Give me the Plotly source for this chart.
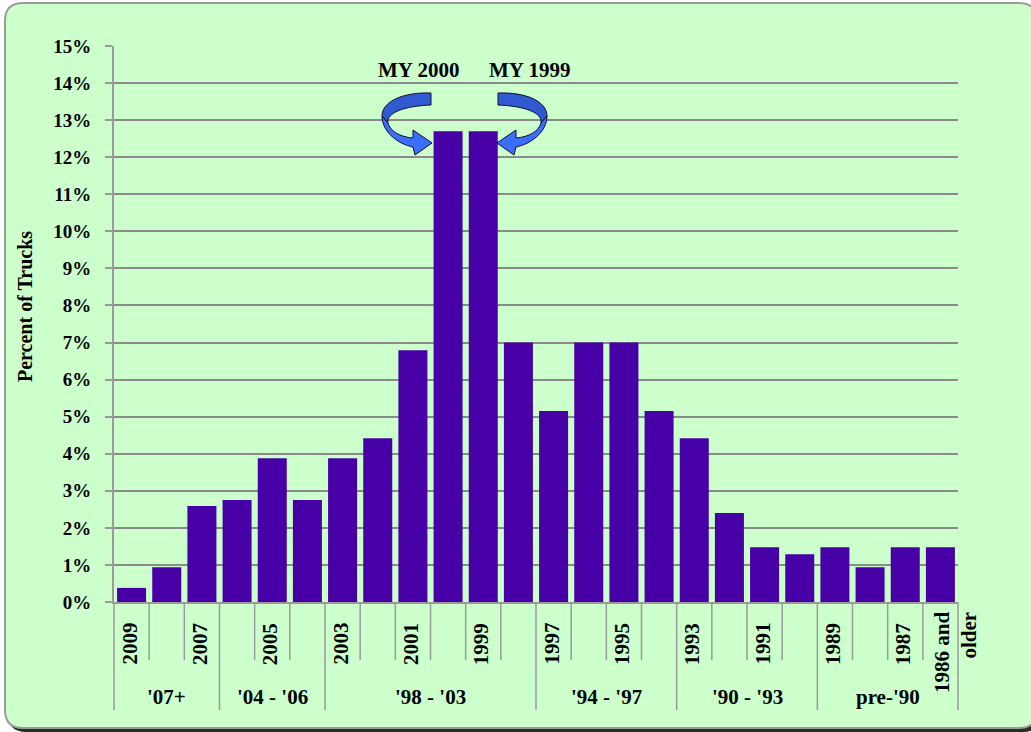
import plotly.graph_objects as go

# Model-year categories and share of trucks (%)
years = ["2009", "2008", "2007", "2006", "2005", "2004", "2003", "2002",
         "2001", "2000", "1999", "1998", "1997", "1996", "1995", "1994",
         "1993", "1992", "1991", "1990", "1989", "1988", "1987", "1986 and older"]
shares = [0.38, 0.94, 2.59, 2.75, 3.88, 2.75, 3.88, 4.42,
          6.79, 12.7, 12.7, 7.0, 5.15, 7.0, 7.0, 5.15,
          4.42, 2.4, 1.48, 1.29, 1.48, 0.94, 1.48, 1.48]
axis_labels = ["2009", "", "2007", "", "2005", "", "2003", "",
               "2001", "", "1999", "", "1997", "", "1995", "",
               "1993", "", "1991", "", "1989", "", "1987", "1986 and<br>older"]
groups = ["'07+", "'04 - '06", "'98 - '03", "'94 - '97", "'90 - '93", "pre-'90"]
group_sizes = [3, 3, 6, 4, 4, 4]
callouts = ["MY 2000", "MY 1999"]
y_ticks = list(range(0, 16))

W, H = 1031, 732
L, R, T, B = 114, 958, 46, 602
FONT = "Liberation Serif"
N = len(years)


def fx(px):
    return (px - L) / (R - L)


def fy(py):
    return (B - py) / (B - T)


def path(cmds):
    """Build an SVG path in paper units from pixel-space commands."""
    out = []
    for c in cmds:
        if isinstance(c, str):
            out.append(c)
        else:
            out.append(f"{fx(c[0]):.5f},{fy(c[1]):.5f}")
    return " ".join(out)


def rounded_rect(x0, y0, x1, y1, r):
    return path(["M", (x0 + r, y0), "L", (x1 - r, y0), "Q", (x1, y0), (x1, y0 + r),
                 "L", (x1, y1 - r), "Q", (x1, y1), (x1 - r, y1),
                 "L", (x0 + r, y1), "Q", (x0, y1), (x0, y1 - r),
                 "L", (x0, y0 + r), "Q", (x0, y0), (x0 + r, y0), "Z"])


fig = go.Figure(go.Bar(
    x=years, y=shares,
    marker=dict(color="#4700A6", line=dict(width=0)),
    hoverinfo="x+y",
))

shapes = []
# panel shadow and panel
shapes.append(dict(type="path", xref="paper", yref="paper", layer="below",
                   path=rounded_rect(8, 6, 1041, 732, 18),
                   fillcolor="#2b2b2b", line=dict(width=0)))
shapes.append(dict(type="path", xref="paper", yref="paper", layer="below",
                   path=rounded_rect(5, 3, 1037, 728, 18),
                   fillcolor="#CCFFCC", line=dict(color="#9a9a9a", width=2)))

# category separators below the axis
bounds = [0]
for s in group_sizes:
    bounds.append(bounds[-1] + s)
for k in range(N + 1):
    long_tick = k in bounds
    shapes.append(dict(type="line", xref="paper", yref="paper",
                       x0=k / N, x1=k / N, y0=0, y1=fy(710 if long_tick else 660),
                       line=dict(color="#9a9a9a", width=1.5)))


def arrow_parts(mirror=None):
    def m(p):
        return (2 * mirror - p[0], p[1]) if mirror else p
    back = ["M", m((431, 93)), "C", m((404, 92)), m((382, 101)), m((382, 116)),
            "L", m((388, 123)), "C", m((386, 113)), m((404, 106)), m((431, 105)), "Z"]
    front = ["M", m((382, 116)), "C", m((382, 132)), m((398, 144)), m((413, 147)),
             "L", m((415, 155)), "L", m((432, 143)), "L", m((413, 130)), "L", m((413, 138)),
             "C", m((400, 137)), m((390, 131)), m((388, 123)), "Z"]
    return path(back), path(front)


for mir in (None, 464.5):
    back, front = arrow_parts(mir)
    shapes.append(dict(type="path", xref="paper", yref="paper", path=back,
                       fillcolor="#2F5AD2", line=dict(color="#101030", width=1)))
    shapes.append(dict(type="path", xref="paper", yref="paper", path=front,
                       fillcolor="#3B6EFF", line=dict(color="#101030", width=1)))

annotations = []
# year labels under the bars
for i, lab in enumerate(axis_labels):
    if not lab:
        continue
    last = "<br>" in lab
    annotations.append(dict(
        x=i, xref="x", y=fy(610 if last else 621), yref="paper",
        text=lab, textangle=-90, showarrow=False,
        xanchor="center", yanchor="top", align="right",
        xshift=15 if last else -2,
        font=dict(family=FONT, size=21, color="black", weight="bold"),
    ))
# year-group labels
start = 0
for g, s in zip(groups, group_sizes):
    annotations.append(dict(
        x=start + (s - 1) / 2, xref="x", y=fy(697), yref="paper",
        text=g, showarrow=False, xanchor="center", yanchor="middle",
        font=dict(family=FONT, size=21, color="black", weight="bold"),
    ))
    start += s
# callouts above the two tallest bars
for txt, px in zip(callouts, (418, 529)):
    annotations.append(dict(
        x=fx(px), xref="paper", y=fy(70), yref="paper", text=txt,
        showarrow=False, xanchor="center", yanchor="middle",
        font=dict(family=FONT, size=21, color="black", weight="bold"),
    ))
# y-axis title
annotations.append(dict(
    x=fx(25), xref="paper", y=fy(307), yref="paper", text="Percent of Trucks",
    textangle=-90, showarrow=False, xanchor="center", yanchor="middle",
    font=dict(family=FONT, size=20, color="black", weight="bold"),
))

fig.update_layout(
    width=W, height=H,
    margin=dict(l=L, r=W - R, t=T, b=H - B, pad=0),
    paper_bgcolor="white",
    plot_bgcolor="rgba(0,0,0,0)",
    bargap=0.175,
    showlegend=False,
    shapes=shapes,
    annotations=annotations,
    xaxis=dict(
        type="category", range=[-0.5, N - 0.5], showticklabels=False,
        showgrid=False, zeroline=False, showline=True,
        linecolor="#9a9a9a", linewidth=2, ticks="", fixedrange=True,
    ),
    yaxis=dict(
        range=[0, 15], tickvals=y_ticks, ticktext=[f"{v}%" for v in y_ticks],
        showgrid=True, gridcolor="#8a8a8a", gridwidth=1.5,
        zeroline=False, showline=True, linecolor="#9a9a9a", linewidth=2,
        ticks="outside", ticklen=7, tickcolor="#9a9a9a", tickwidth=1.5,
        ticklabelstandoff=10,
        tickfont=dict(family=FONT, size=19, color="black", weight="bold"),
        fixedrange=True,
    ),
)

fig.write_html("out.html")
